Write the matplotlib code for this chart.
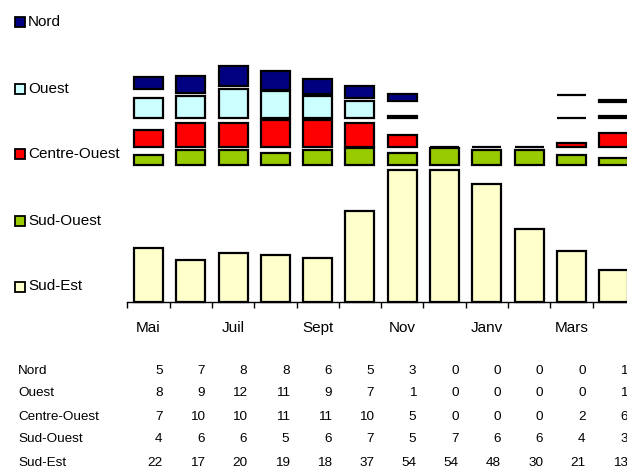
import matplotlib
matplotlib.use("Agg")
import matplotlib.pyplot as plt
from matplotlib.patches import Rectangle
from matplotlib.transforms import blended_transform_factory
import numpy as np

plt.rcParams["font.family"] = ["Liberation Sans", "DejaVu Sans"]

MONTHS = ["Mai", "Juin", "Juil", "Août", "Sept", "Oct", "Nov", "Déc",
          "Janv", "Févr", "Mars", "Avr"]
MONTH_LABELS = ["Mai", "", "Juil", "", "Sept", "", "Nov", "", "Janv", "", "Mars", ""]

SERIES = ["Nord", "Ouest", "Centre-Ouest", "Sud-Ouest", "Sud-Est"]
nord = [5, 7, 8, 8, 6, 5, 3, 0, 0, 0, 0, 1]
ouest = [8, 9, 12, 11, 9, 7, 1, 0, 0, 0, 0, 1]
centre_ouest = [7, 10, 10, 11, 11, 10, 5, 0, 0, 0, 2, 6]
sud_ouest = [4, 6, 6, 5, 6, 7, 5, 7, 6, 6, 4, 3]
sud_est = [22, 17, 20, 19, 18, 37, 54, 54, 48, 30, 21, 13]

# hidden spacer series of the original stacked chart -> bottom of each band
# (None = empty cell, nothing drawn)
nord_bottom = [86.8, 85.4, 88.3, 86.4, 84.9, 83.3, 81.9, None, None, None, 84.5, 81.6]
ouest_bottom = [75.1] * 7 + [None] * 3 + [75.1] * 2
centre_ouest_bottom = [63.1] * 12
sud_ouest_bottom = [55.9] * 12
sud_est_bottom = [0] * 12

COLORS = ["#000080", "#CCFFFF", "#FF0000", "#99CC00", "#FFFFCC"]

values = [nord, ouest, centre_ouest, sud_ouest, sud_est]
bottoms = [nord_bottom, ouest_bottom, centre_ouest_bottom, sud_ouest_bottom, sud_est_bottom]

W, H = 627, 472
fig = plt.figure(figsize=(W / 100, H / 100), dpi=100)

x0, y_axis, cat_w, ppu = 127.3, 302, 42.3, 2.45
ax = fig.add_axes([x0 / W, (H - y_axis) / H, (W - x0) / W, y_axis / H])

x = np.arange(len(MONTHS))
bw = 29 / cat_w
for vals, bots, col in zip(values, bottoms, COLORS):
    for i, (v, b) in enumerate(zip(vals, bots)):
        if b is None:
            continue
        ax.bar(x[i], v, bottom=b, width=bw, color=col, edgecolor="black",
               linewidth=1.6, clip_on=False)

for s in ["top", "left", "right"]:
    ax.spines[s].set_visible(False)
ax.spines["bottom"].set_linewidth(1.0)
ax.set_yticks([])
ax.set_xticks(np.arange(-0.5, 12, 1))
ax.set_xticklabels([])
ax.tick_params(axis="x", which="major", length=4, width=1, direction="out")
ax.set_xticks(x, minor=True)
ax.set_xticklabels(MONTH_LABELS, minor=True, fontsize=11)
ax.tick_params(axis="x", which="minor", length=0, pad=14)

# limits after ticks (set_xticks would widen them)
ax.set_xlim(-0.5, -0.5 + (W - x0) / cat_w)
ax.set_ylim(0, y_axis / ppu)

# legend on the left
leg_y = [21.7, 89.3, 154.3, 221, 286.5]
for name, col, yp in zip(SERIES, COLORS, leg_y):
    fig.add_artist(Rectangle((15 / W, 1 - (yp + 5) / H), 10 / W, 10 / H,
                             facecolor=col, edgecolor="black", linewidth=1.3,
                             transform=fig.transFigure))
    fig.text(28 / W, 1 - yp / H, name, fontsize=11, va="center", ha="left")

# data table below
tr = blended_transform_factory(ax.transData, fig.transFigure)
row_y = [370.5, 393.5, 416.5, 439.5, 462.5]
for name, vals, yp in zip(SERIES, values, row_y):
    fig.text(18.3 / W, 1 - yp / H, name, fontsize=9.7, va="center", ha="left")
    for i, v in enumerate(vals):
        ax.text(x[i] + 0.335, 1 - yp / H, str(v), transform=tr, fontsize=9.7,
                va="center", ha="right", clip_on=False)

fig.savefig("out.png", dpi=100)
